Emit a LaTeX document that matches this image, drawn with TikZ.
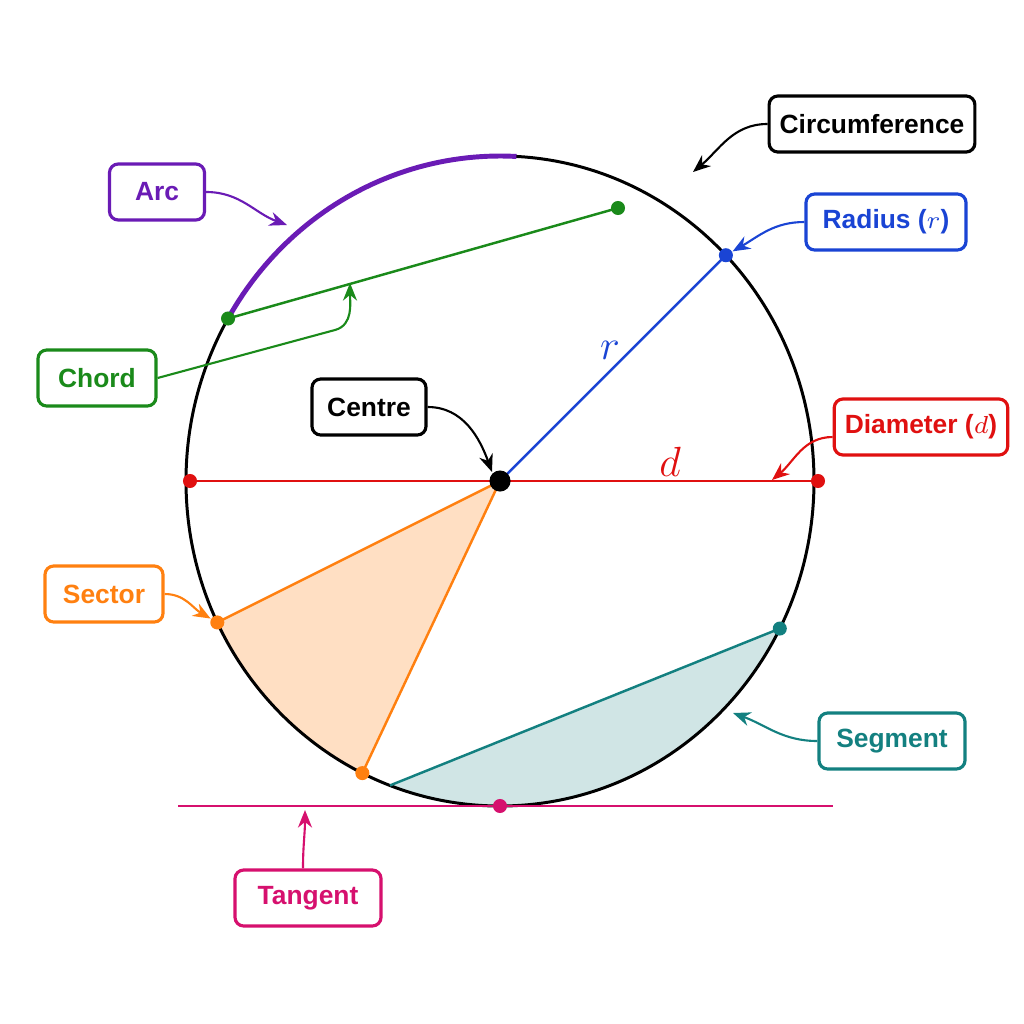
\documentclass[tikz,border=0pt]{standalone}
\usepackage{fontspec}
\setmainfont{Liberation Sans}
\usetikzlibrary{arrows.meta}
\definecolor{cpur}{HTML}{6A1BB5}
\definecolor{cgrn}{HTML}{1A8A1A}
\definecolor{cblu}{HTML}{1A44D4}
\definecolor{cred}{HTML}{E01010}
\definecolor{corg}{HTML}{FF8010}
\definecolor{cteal}{HTML}{138080}
\definecolor{cmag}{HTML}{D6106E}
\begin{document}
\begin{tikzpicture}[x=0.01cm,y=-0.01cm,
 lbl/.style={draw=#1,text=#1,rounded corners=2.5pt,line width=0.9pt,fill=white,font=\bfseries\fontsize{7.5}{9}\selectfont,minimum height=0.56cm,inner xsep=3pt},
 lbl/.default=black,
 arr/.style={-{Stealth[length=5pt,width=4pt]},line width=0.6pt},
 dot/.style={circle,fill,inner sep=0pt,minimum size=4pt}]
\useasboundingbox (0,0) rectangle (1024,1024);
% fills
\fill[corg!25] (500,481) -- plot[domain=205.8:244,samples=30] ({500+314*cos(\x)},{481-325*sin(\x)}) -- cycle;
\fill[cteal!20] plot[domain=249.5:333,samples=50] ({500+314*cos(\x)},{481-325*sin(\x)}) -- cycle;
% circle
\draw[line width=0.85pt] (500,481) ellipse[x radius=314,y radius=325];
\draw[cpur,line width=1.4pt] plot[domain=87:150,samples=50] ({500+314*cos(\x)},{481-325*sin(\x)});
% points
\coordinate (O) at (500,481);
\coordinate (A1) at ({500+314*cos(150)},{481-325*sin(150)});
\coordinate (A2) at (618,208);
\coordinate (R) at ({500+314*cos(44)},{481-325*sin(44)});
\coordinate (DL) at (190,481);
\coordinate (DR) at (818,481);
\coordinate (S1) at ({500+314*cos(205.8)},{481-325*sin(205.8)});
\coordinate (S2) at ({500+314*cos(244)},{481-325*sin(244)});
\coordinate (G1) at ({500+314*cos(249.5)},{481-325*sin(249.5)});
\coordinate (G2) at ({500+314*cos(333)},{481-325*sin(333)});
\coordinate (T) at (500,806);
\coordinate (TL) at (178,806);
\coordinate (TR) at (833,806);
\draw[cgrn,line width=0.7pt] (A1) -- (A2);
\draw[cblu,line width=0.7pt] (O) -- (R);
\draw[cred,line width=0.7pt] (DL) -- (DR);
\draw[corg,line width=0.7pt] (S1) -- (O) -- (S2);
\draw[cteal,line width=0.7pt] (G1) -- (G2);
\draw[cmag,line width=0.7pt] (TL) -- (TR);
\node[dot,cgrn] (pa1) at (A1) {};
\node[dot,cgrn] (pa2) at (A2) {};
\node[dot,cblu] (pr) at (R) {};
\node[dot,cred] (pdl) at (DL) {};
\node[dot,cred] (pdr) at (DR) {};
\node[dot,corg] (ps1) at (S1) {};
\node[dot,corg] (ps2) at (S2) {};
\node[dot,cteal] (pg2) at (G2) {};
\node[dot,cmag] (pt) at (T) {};
\node[dot,black,minimum size=6pt] (pO) at (O) {};
\node[cblu,font=\large] (rl) at (610,350) {$r$};
\node[cred,font=\large] (dl) at (670,462) {$d$};
% labels
\node[lbl] (circ) at (872,124) {Circumference};
\node[lbl=cpur,minimum width=0.95cm] (arc) at (157,192) {Arc};
\node[lbl=cblu,minimum width=1.6cm] (rad) at (886,222) {Radius ($r$)};
\node[lbl=cgrn,minimum width=1.18cm] (chord) at (97,378) {Chord};
\node[lbl,minimum width=1.14cm] (cen) at (369,407) {Centre};
\node[lbl=cred,minimum width=1.6cm] (diam) at (921,427) {Diameter ($d$)};
\node[lbl=corg,minimum width=1.18cm] (sec) at (104,594) {Sector};
\node[lbl=cteal,minimum width=1.46cm] (seg) at (892,741) {Segment};
\node[lbl=cmag,minimum width=1.46cm] (tan) at (308,898) {Tangent};
% arrows
\coordinate (ec) at (693,172);
\draw[arr] (circ.west) to[out=180,in=40] (ec);
\coordinate (ea) at (287,225);
\draw[arr,cpur] (arc.east) to[out=0,in=160] (ea);
\draw[arr,cblu] (rad.west) to[out=180,in=30] (pr);
\coordinate (ech) at (350,283);
\draw[arr,cgrn] (chord.east) -- (335,330) to[out=15,in=270] (ech);
\coordinate (ece) at (492,472);
\draw[arr] (cen.east) to[out=0,in=110] (ece);
\coordinate (ed) at (772,480);
\draw[arr,cred] ([yshift=-0.1cm]diam.west) to[out=180,in=40] (ed);
\draw[arr,corg] (sec.east) to[out=0,in=150] (ps1);
\coordinate (es) at (733,713);
\draw[arr,cteal] (seg.west) to[out=180,in=-20] (es);
\coordinate (et) at (305,810);
\draw[arr,cmag] ([xshift=-0.05cm]tan.north) to[out=90,in=270] (et);
\end{tikzpicture}
\end{document}
